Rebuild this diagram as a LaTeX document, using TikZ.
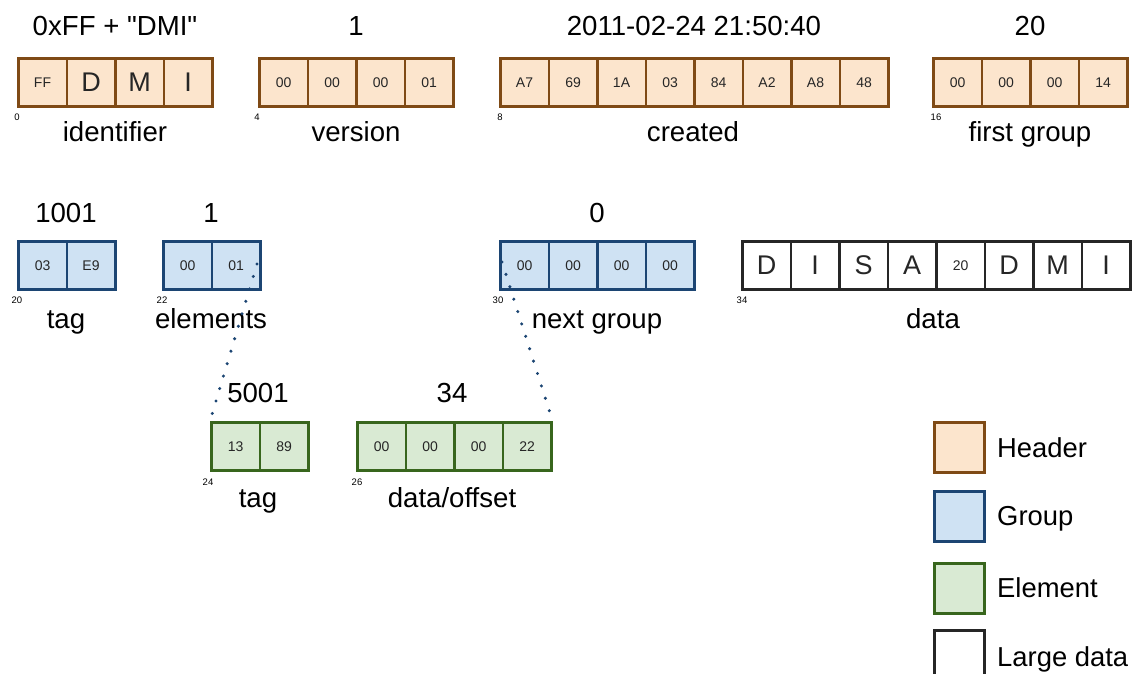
\documentclass[tikz,border=0pt]{standalone}
\usepackage{fontspec}
\setmainfont{Liberation Sans}
\definecolor{hdrfill}{HTML}{FCE5CD}
\definecolor{hdrdraw}{HTML}{7F4A15}
\definecolor{grpfill}{HTML}{CFE2F3}
\definecolor{grpdraw}{HTML}{1C4573}
\definecolor{elfill}{HTML}{D9EAD3}
\definecolor{eldraw}{HTML}{38661D}
\newcommand\Lg{\fontsize{27}{27}\selectfont}
\newcommand\cellrow[5]{%
  \foreach \t [count=\i] in {#5} {
    \node[cell,#4] (#1\i) at ({#2+(\i-1)*48.5},#3) {\t};
  }}
\tikzset{
  cell/.style={minimum width=48.5pt, minimum height=48pt, inner sep=0pt, line width=2.6pt,
    anchor=north west, font=\fontsize{14}{14}\selectfont, text=black!85},
  hdr/.style={fill=hdrfill, draw=hdrdraw},
  grp/.style={fill=grpfill, draw=grpdraw},
  elm/.style={fill=elfill, draw=eldraw},
  big/.style={fill=white, draw=black!85},
  lbl/.style={font=\fontsize{27.6}{27.6}\selectfont, anchor=base, inner sep=0pt},
  off/.style={font=\fontsize{9.5}{9.5}\selectfont, inner sep=0pt},
  leg/.style={font=\fontsize{27.4}{27.4}\selectfont, anchor=base west, inner sep=0pt},
  legbox/.style={minimum width=50pt, minimum height=50pt, inner sep=0pt, line width=2.6pt, anchor=north west},
  dots/.style={draw=grpdraw, line width=3.4pt, line cap=round, dash pattern=on 0pt off 13pt}
}
\begin{document}
\begin{tikzpicture}[x=1pt,y=-1pt]
\useasboundingbox (0,0) rectangle (1135,674);
% row 1: header
\cellrow{id}{17}{57}{hdr}{FF,{\Lg D},{\Lg M},{\Lg I}}
\cellrow{ver}{258}{57}{hdr}{00,00,00,01}
\cellrow{cr}{499}{57}{hdr}{A7,69,1A,03,84,A2,A8,48}
\cellrow{fg}{932}{57}{hdr}{00,00,00,14}
\node[lbl] (idv) at (115,36) {0xFF + \textquotedbl DMI\textquotedbl};
\node[lbl] (verv) at (356,36) {1};
\node[lbl] (crv) at (694,36) {2011-02-24 21:50:40};
\node[lbl] (fgv) at (1030,36) {20};
\node[lbl] (idl) at (115,142) {identifier};
\node[lbl] (verl) at (356,142) {version};
\node[lbl] (crl) at (693,142) {created};
\node[lbl] (fgl) at (1030,142) {first group};
\node[off] (o0) at (17,117) {0};
\node[off] (o4) at (257,117) {4};
\node[off] (o8) at (500,117) {8};
\node[off] (o16) at (936,117) {16};
% row 2: group
\cellrow{gt}{17}{240}{grp}{03,E9}
\cellrow{ge}{162}{240}{grp}{00,01}
\cellrow{ng}{499}{240}{grp}{00,00,00,00}
\cellrow{dt}{741}{240}{big}{{\Lg D},{\Lg I},{\Lg S},{\Lg A},20,{\Lg D},{\Lg M},{\Lg I}}
\node[lbl] (gtv) at (66,222) {1001};
\node[lbl] (gev) at (211,222) {1};
\node[lbl] (ngv) at (597,222) {0};
\node[lbl] (gtl) at (66,328) {tag};
\node[lbl] (gel) at (211,328) {elements};
\node[lbl] (ngl) at (597,328) {next group};
\node[lbl] (dtl) at (933,328) {data};
\node[off] (o20) at (17,300) {20};
\node[off] (o22) at (162,300) {22};
\node[off] (o30) at (498,300) {30};
\node[off] (o34) at (742,300) {34};
% row 3: element
\cellrow{et}{210}{421}{elm}{13,89}
\cellrow{ed}{356}{421}{elm}{00,00,00,22}
\node[lbl] (etv) at (258,402) {5001};
\node[lbl] (edv) at (452,402) {34};
\node[lbl] (etl) at (258,507) {tag};
\node[lbl] (edl) at (452,507) {data/offset};
\node[off] (o24) at (208,482) {24};
\node[off] (o26) at (357,482) {26};
% dotted links
\coordinate (ea) at (257,264);
\coordinate (na) at (502,262);
\draw[dots] (ea) -- (et1.north west);
\draw[dots] (na) -- (ed4.north east);
% legend
\node[legbox,hdr] (lh) at (933,421) {};
\node[legbox,grp] (lg) at (933,490) {};
\node[legbox,elm] (le) at (933,562) {};
\node[legbox,big] (ll) at (933,629) {};
\node[leg] (lht) at (997,457) {Header};
\node[leg] (lgt) at (997,525) {Group};
\node[leg] (let) at (997,597) {Element};
\node[leg] (llt) at (997,666) {Large data};
\end{tikzpicture}
\end{document}
